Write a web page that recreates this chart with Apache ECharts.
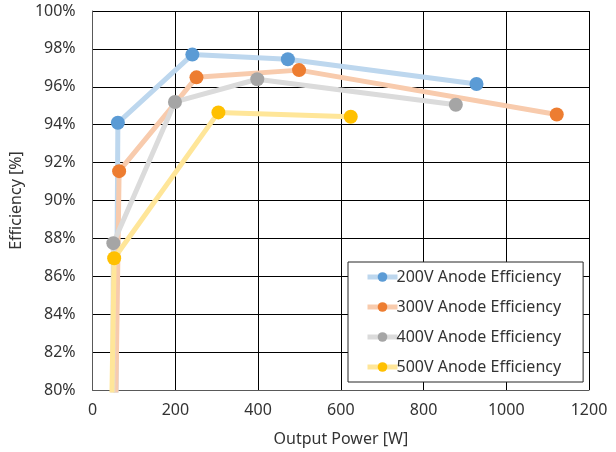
<!DOCTYPE html>
<html>
<head>
<meta charset="utf-8">
<script src="https://cdn.jsdelivr.net/npm/echarts@6/dist/echarts.min.js"></script>
<style>
  html, body { margin: 0; padding: 0; background: #fff; }
  #chart { width: 616px; height: 452px; }
</style>
</head>
<body>
<div id="chart"></div>
<script>
// Anode efficiency versus output power, one curve per anode voltage.
// Each list holds [output power W, efficiency %]; the first point of each
// curve lies below the 80% floor and is clipped by the plot area.
const seriesNames = [
  '200V Anode Efficiency',
  '300V Anode Efficiency',
  '400V Anode Efficiency',
  '500V Anode Efficiency'
];
const eff200 = [[55, 75], [61, 94.1], [241, 97.7], [472, 97.45], [928, 96.15]];
const eff300 = [[53, 75], [64, 91.55], [251, 96.5], [499, 96.88], [1122, 94.54]];
const eff400 = [[48, 75], [50, 87.75], [199, 95.2], [398, 96.4], [878, 95.05]];
const eff500 = [[43, 75], [52, 86.95], [304, 94.65], [624, 94.42]];

const markerColors = ['#5B9BD5', '#ED7D31', '#A5A5A5', '#FFC000'];
const lineColors = ['#BDD7EE', '#F8CBAD', '#DBDBDB', '#FFE699'];

const xTicks = { min: 0, max: 1200, step: 200 };
const yTicks = { min: 80, max: 100, step: 2 };

const font = '"Noto Sans", "Open Sans", sans-serif';
const textColor = '#333333';
const allData = [eff200, eff300, eff400, eff500];

const chart = echarts.init(document.getElementById('chart'), null, { renderer: 'canvas' });

chart.setOption({
  animation: false,
  backgroundColor: '#ffffff',
  grid: { left: 92, right: 27, top: 11, bottom: 60, containLabel: false },
  xAxis: {
    type: 'value',
    min: xTicks.min, max: xTicks.max, interval: xTicks.step,
    name: 'Output Power [W]',
    nameLocation: 'middle',
    nameGap: 41,
    nameTextStyle: { fontFamily: font, fontSize: 16, color: textColor },
    axisLine: { show: true, lineStyle: { color: '#595959', width: 1 } },
    axisTick: { show: false },
    axisLabel: { fontFamily: font, fontSize: 16, color: textColor, margin: 12,
                 formatter: v => String(v) },
    splitLine: { show: true, lineStyle: { color: '#000000', width: 1 } }
  },
  yAxis: {
    type: 'value',
    min: yTicks.min, max: yTicks.max, interval: yTicks.step,
    name: 'Efficiency [%]',
    nameLocation: 'middle',
    nameGap: 57,
    nameTextStyle: { fontFamily: font, fontSize: 16, color: textColor },
    axisLine: { show: true, lineStyle: { color: '#595959', width: 1 } },
    axisTick: { show: false },
    axisLabel: { fontFamily: font, fontSize: 16, color: textColor, margin: 17,
                 formatter: v => v + '%' },
    splitLine: { show: true, lineStyle: { color: '#000000', width: 1 } }
  },
  legend: {
    orient: 'vertical',
    left: 348, top: 262,
    padding: [7, 22, 7, 17],
    itemGap: 14,
    itemWidth: 30,
    itemHeight: 12,
    backgroundColor: '#ffffff',
    borderColor: '#262626',
    borderWidth: 1,
    lineStyle: { width: 5 },
    textStyle: { fontFamily: font, fontSize: 16, color: textColor, padding: [0, 0, 0, -6] },
    data: seriesNames
  },
  series: allData.map((d, i) => ({
    name: seriesNames[i],
    type: 'line',
    data: d,
    clip: true,
    symbol: 'circle',
    symbolSize: 14,
    showAllSymbol: true,
    lineStyle: { color: lineColors[i], width: 5 },
    itemStyle: { color: markerColors[i] },
    emphasis: { disabled: true },
    z: 2 + i
  }))
});
</script>
</body>
</html>
